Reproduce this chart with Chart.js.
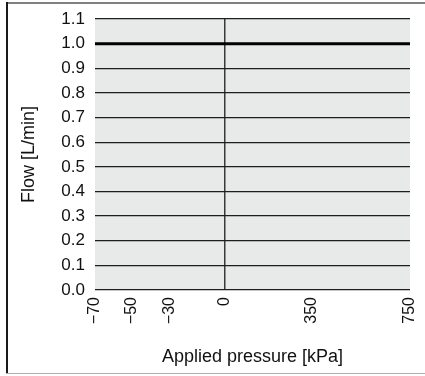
<!DOCTYPE html>
<html>
<head>
<meta charset="utf-8">
<script src="https://cdn.jsdelivr.net/npm/chart.js@4"></script>
<style>
    html, body { margin: 0; padding: 0; background: #fff; }
</style>
</head>
<body>
<canvas id="flowChart" width="425" height="376"></canvas>
<script>
// Дані графіка
const pressureTicks = [-70, -50, -30, 0, 350, 750];
const xTickLabels = ['\u221270', '\u221250', '\u221230', '0', '350', '750'];
const pressure = [-70, -50, -30, 0, 350, 750];
const flow = [1.0, 1.0, 1.0, 1.0, 1.0, 1.0];

// Від'ємна частина осі розтягнута (ділянка -70..0 займає ~40% ширини)
const NEG_STRETCH = 7.5;
const tx = p => (p < 0 ? p * NEG_STRETCH : p);

const fontFamily = "'Liberation Sans', Arial, Helvetica, sans-serif";

// Сірий фон області графіка + рамка навколо малюнка
const plotBackground = {
    id: 'plotBackground',
    beforeDraw(chart) {
        const { ctx, chartArea, width, height } = chart;
        ctx.save();
        ctx.fillStyle = '#e8e9e9';
        ctx.fillRect(chartArea.left, chartArea.top, chartArea.right - chartArea.left, chartArea.bottom - chartArea.top);

        // рамка: зверху сіра, зліва темна, знизу світла
        ctx.fillStyle = '#808080';
        ctx.fillRect(6, 2, width - 6, 2);
        ctx.fillStyle = '#1a1a1a';
        ctx.fillRect(6, 2, 2, height - 4);
        ctx.fillStyle = '#b0b0b0';
        ctx.fillRect(6, height - 3, width - 6, 1);
        ctx.restore();
    }
};

new Chart(document.getElementById('flowChart'), {
    type: 'line',
    data: {
        datasets: [{
            data: pressure.map((p, i) => ({ x: tx(p), y: flow[i] })),
            borderColor: '#000',
            borderWidth: 3,
            pointRadius: 0,
            tension: 0,
            clip: false
        }]
    },
    options: {
        responsive: false,
        animation: false,
        layout: {
            padding: { left: 0, top: 19, right: 15, bottom: 0 }
        },
        plugins: {
            legend: { display: false },
            tooltip: { enabled: false }
        },
        scales: {
            x: {
                type: 'linear',
                min: tx(pressureTicks[0]),
                max: tx(pressureTicks[pressureTicks.length - 1]),
                afterBuildTicks: scale => {
                    scale.ticks = pressureTicks.map(p => ({ value: tx(p) }));
                },
                afterFit: scale => {
                    scale.height = 86;
                    scale.paddingLeft = 0;
                    scale.paddingRight = 0;
                },
                ticks: {
                    autoSkip: false,
                    minRotation: 90,
                    maxRotation: 90,
                    padding: 7,
                    color: '#111',
                    font: { family: fontFamily, size: 16 },
                    callback: (value, index) => xTickLabels[index]
                },
                grid: {
                    drawTicks: false,
                    color: ctx => (ctx.tick && ctx.tick.value === 0 ? '#3a3a3a' : 'rgba(0,0,0,0)'),
                    lineWidth: 1.5
                },
                border: { display: false },
                title: {
                    display: true,
                    text: 'Applied pressure [kPa]',
                    color: '#111',
                    font: { family: fontFamily, size: 18 },
                    padding: { top: 0, bottom: 8 }
                }
            },
            y: {
                min: 0,
                max: 1.1,
                afterFit: scale => {
                    scale.width = 95;
                    scale.paddingTop = 0;
                    scale.paddingBottom = 0;
                },
                ticks: {
                    stepSize: 0.1,
                    padding: 10,
                    color: '#111',
                    font: { family: fontFamily, size: 17 },
                    callback: value => value.toFixed(1)
                },
                grid: {
                    drawTicks: false,
                    color: '#1e1e1e',
                    lineWidth: 1.2
                },
                border: { display: false },
                title: {
                    display: true,
                    text: 'Flow [L/min]',
                    color: '#111',
                    font: { family: fontFamily, size: 18 },
                    padding: { top: 18, bottom: 0 }
                }
            }
        }
    },
    plugins: [plotBackground]
});
</script>
</body>
</html>
